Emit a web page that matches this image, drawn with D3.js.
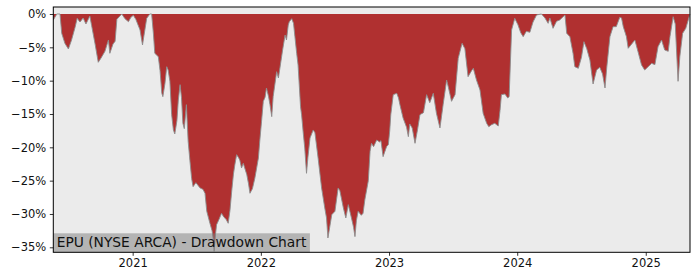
<!DOCTYPE html>
<html>
<head>
<meta charset="utf-8">
<script src="https://cdn.jsdelivr.net/npm/d3@7"></script>
<style>
  body { margin: 0; background: #fff; }
  svg text { font-family: "DejaVu Sans", sans-serif; fill: #111; }
</style>
</head>
<body>
<div id="chart"></div>
<script>

var fillColor = '#b03030'
var edgeColor = '#8c8c8c'
var panelColor = '#ebebeb'

var dates = [
  '2020-05-20','2020-05-30','2020-06-08','2020-06-13','2020-06-22','2020-07-02','2020-07-11','2020-07-21','2020-07-27','2020-08-04',
  '2020-08-13','2020-08-21','2020-09-01','2020-09-06','2020-09-16','2020-09-25','2020-10-03','2020-10-14','2020-10-24','2020-10-28',
  '2020-11-06','2020-11-12','2020-11-17','2020-12-01','2020-12-10','2020-12-20','2020-12-27','2021-01-03','2021-01-10','2021-01-22',
  '2021-01-29','2021-02-02','2021-02-10','2021-02-19','2021-02-24','2021-03-01','2021-03-05','2021-03-15','2021-03-20','2021-03-25',
  '2021-03-28','2021-04-03','2021-04-08','2021-04-12','2021-04-17','2021-04-22','2021-04-27','2021-05-01','2021-05-07','2021-05-11',
  '2021-05-16','2021-05-20','2021-05-24','2021-05-28','2021-06-03','2021-06-08','2021-06-13','2021-06-18','2021-06-22','2021-06-30',
  '2021-07-12','2021-07-20','2021-07-26','2021-07-31','2021-08-09','2021-08-15','2021-08-18','2021-08-21','2021-08-25','2021-08-28',
  '2021-09-04','2021-09-11','2021-09-18','2021-09-24','2021-09-30','2021-10-05','2021-10-10','2021-10-15','2021-10-19','2021-10-24',
  '2021-10-29','2021-11-02','2021-11-07','2021-11-12','2021-11-22','2021-11-27','2021-12-01','2021-12-08','2021-12-15','2021-12-25',
  '2021-12-29','2022-01-03','2022-01-08','2022-01-13','2022-01-17','2022-01-23','2022-01-27','2022-02-01','2022-02-05','2022-02-15',
  '2022-02-20','2022-02-26','2022-03-04','2022-03-11','2022-03-15','2022-03-20','2022-03-23','2022-03-30','2022-04-04','2022-04-08',
  '2022-04-13','2022-04-17','2022-04-24','2022-04-27','2022-05-02','2022-05-06','2022-05-11','2022-05-15','2022-05-21','2022-05-30',
  '2022-06-04','2022-06-13','2022-06-23','2022-07-02','2022-07-07','2022-07-11','2022-07-22','2022-07-31','2022-08-09','2022-08-14',
  '2022-08-24','2022-08-31','2022-09-07','2022-09-16','2022-09-22','2022-09-26','2022-09-30','2022-10-05','2022-10-14','2022-10-19',
  '2022-10-24','2022-11-03','2022-11-08','2022-11-12','2022-11-18','2022-11-27','2022-12-05','2022-12-09','2022-12-15','2022-12-25',
  '2022-12-30','2023-01-03','2023-01-06','2023-01-13','2023-01-23','2023-01-28','2023-02-01','2023-02-10','2023-02-20','2023-02-25',
  '2023-03-01','2023-03-08','2023-03-16','2023-03-23','2023-03-30','2023-04-09','2023-04-18','2023-04-27','2023-05-07','2023-05-16',
  '2023-05-26','2023-06-04','2023-06-14','2023-06-19','2023-06-28','2023-07-08','2023-07-17','2023-07-28','2023-08-05','2023-08-14',
  '2023-08-24','2023-08-29','2023-09-07','2023-09-17','2023-09-26','2023-10-06','2023-10-12','2023-10-20','2023-10-29','2023-11-08',
  '2023-11-13','2023-11-17','2023-11-27','2023-12-05','2023-12-09','2023-12-16','2023-12-25','2024-01-03','2024-01-11','2024-01-18',
  '2024-01-27','2024-02-06','2024-02-15','2024-02-25','2024-03-10','2024-03-20','2024-03-29','2024-04-03','2024-04-12','2024-04-22',
  '2024-05-01','2024-05-16','2024-05-21','2024-05-30','2024-06-08','2024-06-13','2024-06-23','2024-07-02','2024-07-09','2024-07-17',
  '2024-07-26','2024-08-04','2024-08-14','2024-08-23','2024-08-31','2024-09-07','2024-09-12','2024-09-21','2024-09-30','2024-10-09',
  '2024-10-19','2024-10-24','2024-10-29','2024-11-07','2024-11-12','2024-11-22','2024-12-01','2024-12-10','2024-12-20','2024-12-29',
  '2025-01-08','2025-01-18','2025-01-27','2025-02-05','2025-02-15','2025-02-24','2025-03-06','2025-03-11','2025-03-20','2025-03-26',
  '2025-04-03','2025-04-08','2025-04-16','2025-04-25','2025-05-02','2025-05-07'
]

// drawdown in percent
var drawdown = [
  -0.9, 0, 0, -2.9, -4.4, -5.25, -3.9, -2.0, -0.65, -1.2,
  -0.6, -1.5, -0.3, -1.7, -4.5, -7.25, -6.6, -5.6, -3.9, -5.9,
  -4.5, -4.1, -0.8, 0, -0.7, -1.15, -0.5, -0.2, -0.8, -2.4,
  -4.65, -3.3, -0.65, 0, 0, -2.9, -5.9, -6.4, -8.5, -11.9,
  -12.4, -10.4, -7.9, -8.4, -10.1, -15.1, -17.4, -18.0, -16.0, -12.9,
  -10.6, -12.5, -16.4, -17.2, -13.6, -19.1, -22.0, -24.7, -25.9, -25.3,
  -26.1, -26.3, -26.9, -29.6, -31.4, -32.5, -33.6, -35.6, -33.0, -31.6,
  -30.8, -29.9, -30.5, -30.8, -31.4, -29.5, -26.6, -24.0, -22.6, -21.1,
  -21.5, -21.9, -23.1, -22.4, -24.1, -25.5, -26.9, -26.2, -24.6, -21.6,
  -19.0, -16.1, -13.1, -12.5, -11.1, -12.4, -13.6, -15.4, -12.4, -8.65,
  -9.6, -7.5, -5.4, -3.15, -3.9, -1.65, -1.15, -0.7, -1.4, -3.4,
  -5.9, -7.65, -13.9, -15.1, -18.0, -20.1, -23.9, -21.5, -18.6, -17.4,
  -17.8, -21.6, -26.1, -29.1, -30.6, -33.6, -30.1, -29.6, -26.1, -26.5,
  -29.1, -30.6, -28.6, -30.6, -32.0, -33.4, -31.0, -29.6, -30.2, -29.9,
  -27.9, -25.0, -20.6, -19.4, -19.9, -18.9, -19.2, -19.0, -21.4, -19.9,
  -19.6, -17.5, -15.1, -12.1, -11.9, -12.6, -13.6, -15.6, -17.0, -18.4,
  -16.5, -17.1, -19.4, -17.4, -15.1, -14.8, -12.1, -13.3, -11.9, -14.9,
  -17.1, -13.6, -9.9, -11.0, -13.1, -12.1, -6.65, -4.4, -5.2, -9.4,
  -8.5, -8.15, -9.9, -11.4, -14.9, -16.4, -16.9, -16.6, -16.4, -16.8,
  -14.5, -12.1, -12.0, -12.6, -12.4, -2.4, -0.65, -1.6, -2.8, -3.4,
  -2.6, -2.75, -1.2, -0.15, 0, -0.6, -1.4, -0.6, -2.15, -1.1,
  -0.9, -0.15, -2.9, -3.4, -5.9, -7.9, -8.15, -6.5, -4.15, -5.2,
  -6.9, -10.5, -8.4, -8.0, -9.0, -11.1, -8.0, -3.4, -1.9, -1.9,
  -0.5, -0.6, -1.9, -3.4, -5.15, -4.5, -3.9, -5.65, -7.65, -8.4,
  -7.9, -7.4, -7.6, -4.9, -3.9, -5.4, -5.6, -3.4, -0.4, -1.5,
  -10.1, -6.4, -2.9, -2.15, -0.9, 0
]

var yTicks = [0, -5, -10, -15, -20, -25, -30, -35]
var xTickYears = [2021, 2022, 2023, 2024, 2025]
var chartTitle = 'EPU (NYSE ARCA) - Drawdown Chart'

var W = 700, H = 280
var margin = {top: 7, right: 10, bottom: 27.7, left: 53.3}
var width = W - margin.left - margin.right
var height = H - margin.top - margin.bottom

var parseDate = d3.timeParse('%Y-%m-%d')
var data = dates.map(function(d, i) { return {date: parseDate(d), value: drawdown[i]} })

var svg = d3.select('#chart').append('svg')
  .attr('width', W)
  .attr('height', H)

var g = svg.append('g')
  .attr('transform', 'translate(' + margin.left + ',' + margin.top + ')')

var x = d3.scaleTime()
  .domain(d3.extent(data, function(d) { return d.date }))
  .range([0, width])

var y = d3.scaleLinear()
  .domain([-35.75, 1.05])
  .range([height, 0])

g.append('rect')
  .attr('width', width)
  .attr('height', height)
  .attr('fill', panelColor)

var area = d3.area()
  .x(function(d) { return x(d.date) })
  .y0(y(0))
  .y1(function(d) { return y(d.value) })

var line = d3.line()
  .x(function(d) { return x(d.date) })
  .y(function(d) { return y(d.value) })

g.append('path')
  .datum(data)
  .attr('d', area)
  .attr('fill', fillColor)

g.append('path')
  .datum(data)
  .attr('d', line)
  .attr('fill', 'none')
  .attr('stroke', edgeColor)
  .attr('stroke-width', 0.9)

// label box in the lower left, see-through so the deepest dip shows
var label = g.append('g')
var labelText = label.append('text')
  .attr('x', 3.4)
  .attr('y', height - 5.6)
  .style('font-size', '13.8px')
  .text(chartTitle)
var bb = labelText.node().getBBox()
label.insert('rect', 'text')
  .attr('x', 0)
  .attr('y', height - 19)
  .attr('width', bb.x + bb.width + 3)
  .attr('height', 19)
  .attr('fill', '#7d7d7d')
  .attr('opacity', 0.5)

var xAxis = d3.axisBottom(x)
  .tickValues(xTickYears.map(function(yr) { return new Date(yr, 0, 1) }))
  .tickFormat(d3.timeFormat('%Y'))
  .tickSize(3.5)
  .tickPadding(3.5)

var yAxis = d3.axisLeft(y)
  .tickValues(yTicks)
  .tickFormat(function(d) { return (d < 0 ? '\u2212' + (-d) : d) + '%' })
  .tickSize(3.5)
  .tickPadding(3.5)

g.append('g')
  .attr('class', 'x axis')
  .attr('transform', 'translate(0,' + height + ')')
  .call(xAxis)

g.append('g')
  .attr('class', 'y axis')
  .call(yAxis)

g.selectAll('.axis text')
  .style('font-family', '"DejaVu Sans", sans-serif')
  .style('font-size', '11.5px')
  .attr('fill', '#111')
g.selectAll('.axis .domain').remove()
g.selectAll('.axis line').attr('stroke', '#000').attr('stroke-width', 0.8)

g.append('rect')
  .attr('width', width)
  .attr('height', height)
  .attr('fill', 'none')
  .attr('stroke', '#000')
  .attr('stroke-width', 1)

</script>
</body>
</html>
